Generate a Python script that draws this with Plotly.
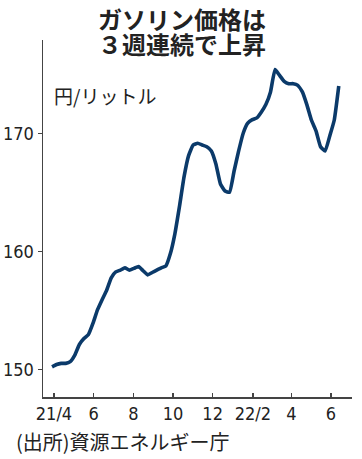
import pandas as pd
import plotly.graph_objects as go

# ---- data ----
dates = pd.date_range("2021-03-29", periods=64, freq="7D")
prices = [
    150.2, 150.4, 150.5, 150.5, 150.65, 151.2, 152.1, 152.6, 152.95, 153.9,
    155.05, 155.9, 156.7, 157.75, 158.25, 158.4, 158.6, 158.4, 158.55, 158.7,
    158.35, 158.0, 158.2, 158.4, 158.6, 158.75, 159.8, 161.5, 163.8, 166.3,
    168.1, 169.0, 169.15, 169.0, 168.85, 168.5, 167.4, 165.7, 165.1, 165.0,
    166.8, 168.5, 170.0, 170.85, 171.15, 171.3, 171.8, 172.45, 173.5, 175.4,
    174.9, 174.4, 174.2, 174.2, 174.05, 173.5, 172.4, 171.1, 170.2, 168.85,
    168.5, 169.75, 171.1, 174.0,
]
tick_dates = ["2021-04-01", "2021-06-01", "2021-08-01", "2021-10-01",
              "2021-12-01", "2022-02-01", "2022-04-01", "2022-06-01"]
tick_text = ["21/4", "6", "8", "10", "12", "22/2", "4", "6"]
y_ticks = [150, 160, 170]

title_line1 = "ガソリン価格は"
title_line2 = "３週連続で上昇"
unit_label = "円/リットル"
source_label = "(出所)資源エネルギー庁"

# ---- layout geometry (pixels) ----
W, H = 362, 459
L, R, T, B = 43, 10, 40, 62
pw, ph = W - L - R, H - T - B


def px(x):
    return (x - L) / pw


def py(y):
    return (H - B - y) / ph


JP = "Noto Sans CJK JP, Noto Sans, sans-serif"
NUM = "Liberation Sans Narrow, DejaVu Sans Condensed, Arial Narrow, sans-serif"

fig = go.Figure()
fig.add_trace(go.Scatter(
    x=dates, y=prices, mode="lines",
    line=dict(color="#0b3a6a", width=3.6, shape="spline", smoothing=0.4),
    hoverinfo="skip", showlegend=False,
))

title_html = (
    f"<b><span style='font-size:24px'>{title_line1}</span><br>"
    f"<span style='font-size:24px'>{title_line2}</span></b>"
)

fig.update_layout(
    width=W, height=H, autosize=False,
    margin=dict(l=L, r=R, t=T, b=B, pad=0),
    paper_bgcolor="white", plot_bgcolor="white",
    xaxis=dict(
        type="date", range=["2021-03-15 02:00", "2022-07-03 08:00"],
        tickvals=tick_dates, ticktext=tick_text, automargin=False,
        ticks="inside", ticklen=4, tickwidth=1.2, tickcolor="#444",
        showline=True, linecolor="#444", linewidth=1.5,
        showgrid=False, zeroline=False,
        tickfont=dict(family=NUM, size=18, color="#222"),
    ),
    yaxis=dict(
        range=[147.65, 177.9], tickvals=y_ticks, automargin=False,
        ticks="outside", ticklen=4, tickwidth=1.2, tickcolor="#444",
        showline=True, linecolor="#444", linewidth=1.5,
        showgrid=False, zeroline=False,
        tickfont=dict(family=NUM, size=18, color="#222"),
    ),
    annotations=[
        dict(text=title_html, xref="paper", yref="paper",
             x=px(181.5), y=py(30.5), xanchor="center", yanchor="middle",
             showarrow=False, font=dict(family=JP, size=19, color="#222")),
        dict(text=unit_label, xref="paper", yref="paper",
             x=px(52), y=py(95), xanchor="left", yanchor="middle",
             showarrow=False, font=dict(family=JP, size=19, color="#222")),
        dict(text=source_label, xref="paper", yref="paper",
             x=px(14), y=py(441), xanchor="left", yanchor="middle",
             showarrow=False, font=dict(family=JP, size=20, color="#222")),
    ],
)

fig.write_html(
    "out.html",
    config={"displayModeBar": False, "staticPlot": True},
    post_script="document.body.style.margin='0';document.body.style.overflow='hidden';",
)
